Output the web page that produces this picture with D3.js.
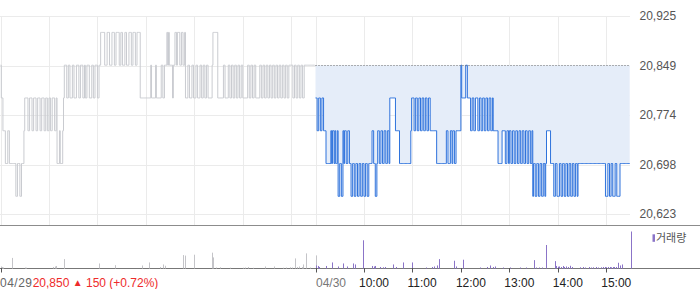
<!DOCTYPE html>
<html>
<head>
<meta charset="utf-8">
<script src="https://cdn.jsdelivr.net/npm/d3@7"></script>
<style>
html, body { margin: 0; padding: 0; background: #fff; }
svg { display: block; font-family: "Liberation Sans", Arial, sans-serif; }
</style>
</head>
<body>
<svg id="chart" width="700" height="289"></svg>
<script>
// price steps (won); every digit in the strings below is an index into this list
const priceLevels = [20650, 20700, 20750, 20800, 20850, 20900];

// 1-minute prices, one string per hour (09, 10, ... 15:00-15:30)
const prevDayCodes = [
    '4332 221 11221 1111111 00 111 00 111 23 33322333223332233322333223322',
    '3322333223 1112111 23 4443344333 4433344433 4443343344 4333443344 4',
    '3344 5555544455 5444555445 5554455444 5544455544 555445555 3333333',
    '333333 4 333334333333 443344 4 545 4444344 5545554455445 33344333443',
    '3344333443 3443344333 33 4555555 3333333443 3334433443 3443344334 4',
    '3333334433 4433443333 3443344334 4334433443 3443344334 4334433444',
    '443344334433443344 444444444444'
];
const todayCodes = [
    '33223322332 22 1111112 1221 21120011002 122112211 0011001100 110011',
    '001100 1111 2211001221 1221122112 21 3333333 22222 11111111111111 23',
    '3322332233 2233223322 3322 222222 1111111111 1122111221 2211 222222',
    '4333334433 3322332233 3223322332 2332233223 2 22222 1111122 2211221',
    '2211221122 1122112211 221122112 01100110011001101 2222211 1100110',
    '0011001100 1100110011 00110 1111111111 1111111111 1111111111 11 110',
    '0011001100 0110000111 1111111111'
];
const prevClose = 20850;

// volume (shares)
const prevVolTimes = ['09:00', '09:02', '09:03', '09:14', '09:30', '09:32', '10:05', '10:07', '10:09',
    '10:18', '10:19', '11:02', '11:22', '11:55', '12:04', '12:17', '12:21', '12:24', '12:46', '12:49',
    '12:59', '13:22', '13:23', '13:27', '13:32', '13:44', '14:00', '14:03', '14:06', '14:12', '14:27',
    '14:39', '14:50', '14:54', '14:58', '15:01', '15:04', '15:07', '15:10', '15:13', '15:15', '15:18',
    '15:23', '15:30'];
const prevVolValues = [2000, 1500, 1000, 10500, 1000, 800, 1500, 2000, 2500,
    9300, 6700, 5000, 3300, 3000, 6000, 1500, 4000, 2700, 13300, 12800,
    13700, 15700, 11000, 1000, 1200, 800, 800, 1000, 1500, 700, 2000,
    2000, 800, 1000, 1200, 1000, 10000, 1500, 2000, 1500, 4000, 15000,
    1000, 13000];
const todayVolTimes = ['09:01', '09:03', '09:04', '09:13', '09:21', '09:28', '09:34', '09:39', '09:46',
    '09:49', '09:59', '10:10', '10:12', '10:14', '10:20', '10:23', '10:26', '10:36', '10:40', '10:48',
    '10:59', '11:17', '11:24', '11:27', '11:30', '11:33', '11:51', '11:54', '12:03', '12:24', '12:32',
    '12:36', '12:40', '12:42', '12:52', '13:01', '13:13', '13:21', '13:30', '13:33', '13:37', '13:40',
    '13:45', '13:56', '13:58', '14:00', '14:02', '14:04', '14:06', '14:08', '14:10', '14:13', '14:15',
    '14:17', '14:27', '14:31', '14:34', '14:38', '14:41', '14:44', '14:47', '14:50', '14:53', '14:56',
    '14:58', '15:00', '15:02', '15:04', '15:06', '15:08', '15:10', '15:12', '15:14', '15:17', '15:19',
    '15:30'];
const todayVolValues = [3000, 2500, 1500, 2500, 6000, 2000, 5000, 2000, 5000,
    4000, 28000, 2500, 2000, 2500, 1500, 1200, 1500, 4000, 1500, 6000,
    6000, 1000, 1500, 2000, 3000, 9300, 7700, 2000, 8700, 1000, 1500,
    3000, 1500, 2000, 1000, 1000, 1000, 1000, 8300, 1000, 1000, 1000,
    23300, 7300, 2500, 1800, 2000, 1500, 2500, 1500, 2000, 1500, 2700,
    1500, 1200, 1500, 1000, 1500, 1000, 1200, 1500, 1000, 1200, 1500,
    1500, 1200, 1500, 1500, 1200, 1500, 1500, 1500, 5700, 3000, 4000,
    36700];

// axes
const yTickValues = [20925, 20849.5, 20774, 20698.5, 20623];
const yTickLabels = ['20,925', '20,849', '20,774', '20,698', '20,623'];
const dateLabels = ['04/29', '04/30'];
const timeLabels = ['10:00', '11:00', '12:00', '13:00', '14:00', '15:00'];
const changeText = ['20,850', '▲', '150 (+0.72%)'];
const volumeLabel = '거래량';

const SESSION = 390; // minutes 09:00-15:30

const toMinute = (t) => {
    const [h, m] = t.split(':').map(Number);
    return (h - 9) * 60 + m;
};
const parseCodes = (rows) => rows.join('').replace(/\s/g, '').split('')
    .map((c, i) => ({ m: i, price: priceLevels[+c] }));

const prevDay = parseCodes(prevDayCodes);
const today = parseCodes(todayCodes).map((d) => ({ m: d.m + SESSION, price: d.price }));
const prevVol = prevVolTimes.map((t, i) => ({ m: toMinute(t), v: prevVolValues[i] }));
const todayVol = todayVolTimes.map((t, i) => ({ m: toMinute(t) + SESSION, v: todayVolValues[i] }));

const svg = d3.select('#chart');

const x = d3.scaleLinear().domain([0, 2 * SESSION]).range([0.5, 630.5]);
const y = d3.scaleLinear().domain([20623, 20925]).range([214, 16]);
const yVol = d3.scaleLinear()
    .domain([0, d3.max(prevVolValues.concat(todayVolValues))])
    .range([268.5, 231.5]);

// grid
const grid = svg.append('g');
grid.selectAll('line.h')
    .data(yTickValues)
    .join('line')
    .attr('x1', 0).attr('x2', 630)
    .attr('y1', (d) => Math.round(y(d)) + 0.5)
    .attr('y2', (d) => Math.round(y(d)) + 0.5)
    .attr('stroke', '#ebebeb');

const gridMinutes = d3.range(0, SESSION, 60)
    .concat(d3.range(SESSION, 2 * SESSION, 60));
grid.selectAll('line.v')
    .data(gridMinutes)
    .join('line')
    .attr('x1', (d) => Math.round(x(d)) + 0.5)
    .attr('x2', (d) => Math.round(x(d)) + 0.5)
    .attr('y1', 16).attr('y2', 225)
    .attr('stroke', '#ebebeb');

// today's area against previous close
const area = d3.area()
    .curve(d3.curveStepAfter)
    .x((d) => x(d.m))
    .y0(y(prevClose))
    .y1((d) => y(d.price));
svg.append('path')
    .datum(today)
    .attr('d', area)
    .attr('fill', '#e5edf9');

const line = d3.line()
    .curve(d3.curveStepAfter)
    .x((d) => x(d.m))
    .y((d) => y(d.price));

svg.append('path')
    .datum(prevDay)
    .attr('d', line)
    .attr('fill', 'none')
    .attr('stroke', '#c9cbd0')
    .attr('stroke-width', 1);

svg.append('path')
    .datum(today)
    .attr('d', line)
    .attr('fill', 'none')
    .attr('stroke', '#2f73dc')
    .attr('stroke-width', 1);

// previous close reference
svg.append('line')
    .attr('x1', x(SESSION)).attr('x2', 630)
    .attr('y1', Math.round(y(prevClose)) + 0.5)
    .attr('y2', Math.round(y(prevClose)) + 0.5)
    .attr('stroke', '#666')
    .attr('stroke-dasharray', '1,2');

// panel separators
svg.append('line')
    .attr('x1', 0).attr('x2', 700).attr('y1', 225.5).attr('y2', 225.5)
    .attr('stroke', '#8c8c8c');
svg.append('line')
    .attr('x1', 0).attr('x2', 700).attr('y1', 268.5).attr('y2', 268.5)
    .attr('stroke', '#777');

// volume bars
const drawVol = (data, color) => {
    svg.append('g')
        .selectAll('line')
        .data(data)
        .join('line')
        .attr('x1', (d) => Math.round(x(d.m)) + 0.5)
        .attr('x2', (d) => Math.round(x(d.m)) + 0.5)
        .attr('y1', yVol(0))
        .attr('y2', (d) => yVol(d.v))
        .attr('stroke', color);
};
drawVol(prevVol, '#c4c4c8');
drawVol(todayVol, '#8b74c8');

// x ticks
const tickMinutes = [0, SESSION].concat(timeLabels.map((t) => toMinute(t) + SESSION));
svg.append('g')
    .selectAll('line')
    .data(tickMinutes)
    .join('line')
    .attr('x1', (d) => Math.round(x(d)) + 0.5)
    .attr('x2', (d) => Math.round(x(d)) + 0.5)
    .attr('y1', 268).attr('y2', 272.5)
    .attr('stroke', '#555');

const labels = svg.append('g').attr('font-size', 12);
labels.append('text')
    .attr('x', 0).attr('y', 286.5)
    .attr('fill', '#666')
    .attr('textLength', 32)
    .text(dateLabels[0]);
labels.append('text')
    .attr('x', x(SESSION) + 0.5).attr('y', 286.5)
    .attr('fill', '#777')
    .text(dateLabels[1]);
labels.selectAll('text.time')
    .data(timeLabels)
    .join('text')
    .attr('x', (d) => x(toMinute(d) + SESSION) - 5)
    .attr('y', 286.5)
    .attr('fill', '#222')
    .text((d) => d);

const change = labels.append('text')
    .attr('x', 32.7).attr('y', 286.5)
    .attr('fill', '#ee2b2b');
change.append('tspan').text(changeText[0] + ' ');
change.append('tspan').attr('font-size', 10).attr('dy', -0.5).text(changeText[1]);
change.append('tspan').attr('dy', 0.5).text(' ' + changeText[2]);

// right price axis
svg.append('g')
    .selectAll('text')
    .data(yTickValues)
    .join('text')
    .attr('x', 639.5)
    .attr('y', (d) => y(d) + 4.3)
    .attr('font-size', 12)
    .attr('fill', '#555')
    .text((d, i) => yTickLabels[i]);

// legend
svg.append('rect')
    .attr('x', 652.5).attr('y', 234.3)
    .attr('width', 2.5).attr('height', 7.5)
    .attr('fill', '#8b74c8');
svg.append('text')
    .attr('x', 656).attr('y', 241.7)
    .attr('font-size', 11)
    .attr('font-family', '"Noto Sans CJK KR", sans-serif')
    .attr('fill', '#555')
    .text(volumeLabel);
</script>
</body>
</html>
